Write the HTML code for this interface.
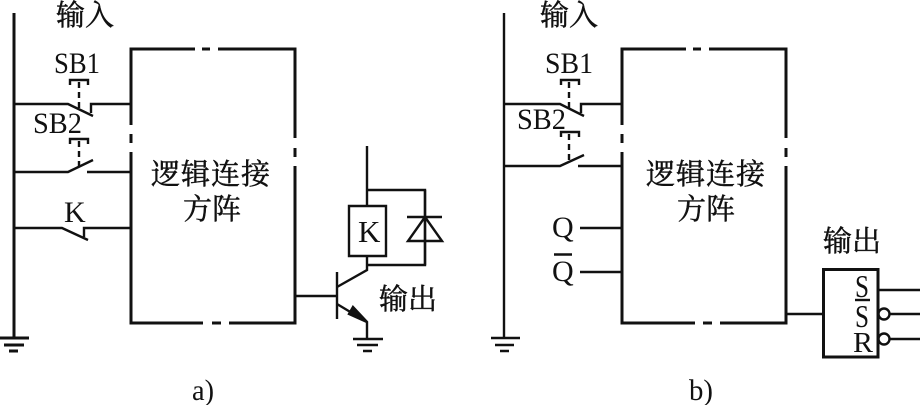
<!DOCTYPE html>
<html><head><meta charset="utf-8"><style>
html,body{margin:0;padding:0;background:#fff}
svg{display:block}
.l{fill:none;stroke:#111;stroke-width:2.4}
.t{stroke-width:3}
.cn{font-family:"Liberation Serif","Noto Serif CJK SC",serif;font-size:29px;fill:#111;stroke:#111;stroke-width:.45}
.w{letter-spacing:1px}
.en{font-family:"Liberation Serif",serif;font-size:30px;fill:#111}
</style></head><body>
<svg width="920" height="405" viewBox="0 0 920 405" xmlns="http://www.w3.org/2000/svg">
<g class="l">
<!-- a -->
<path class="t" d="M14 13V338M0 338H29M4 345H24M9 351H18"/>
<path class="t" d="M195 49H131V125M131 134V143M131 152V323H203M212 323H221M229 323H295V166M295 157V148M295 138V49H218M202 49H210"/>
<path d="M14 104H68L93 116M91 113V104H131M70 85V80H88V85"/>
<path d="M79 82V108" stroke-dasharray="6 4"/>
<path d="M14 172H68L93 160M87 172H131M70 144V139H88V144"/>
<path d="M79 141V166" stroke-dasharray="6 4"/>
<path d="M14 228H62L88 240M84 237V228H131"/>
<path d="M367 146V205M367 190H425V265H367M367 256V270L337 287M349 206H386V256H349Z"/>
<path d="M407 217H442M425 217L408 241H442ZM425 190V265"/>
<path d="M295 296H337M337 272V319M337 304L367 322V338M353 339H383M357 345H378M363 351H372"/>
<path d="M367 322L349 314L353 307Z" fill="#111"/>
<!-- b -->
<path d="M504 13V338M491 338H520M495 345H514M500 351H509"/>
<path class="t" d="M686 49H622V125M622 134V143M622 152V323H695M703 323H712M720 323H786V166M786 157V148M786 138V49H709M693 49H701"/>
<path d="M504 104H560L584 116M581 113V104H622M561 85V80H579V85"/>
<path d="M569 82V108" stroke-dasharray="6 4"/>
<path d="M504 166H560L584 155M578 166H622M561 137V132H579V137"/>
<path d="M569 134V160" stroke-dasharray="6 4"/>
<path d="M580 228H622M580 272H622M554 254.500H572"/>
<path d="M786 314H823M878 290H920M890 314H920M890 339H920"/>
<rect class="t" x="823.500" y="269.500" width="54.500" height="87.500"/>
<circle cx="884" cy="314" r="5.500"/><circle cx="884" cy="339" r="5.500"/>
<path d="M855 300H870"/>
</g>
<text class="cn" x="56" y="25">输入</text>
<text class="cn" x="540" y="25">输入</text>
<text class="en" x="54" y="73" textLength="46" lengthAdjust="spacingAndGlyphs">SB1</text>
<text class="en" x="33" y="133" textLength="49" lengthAdjust="spacingAndGlyphs">SB2</text>
<text class="en" x="64" y="222">K</text>
<text class="en" x="358" y="242" style="font-size:31px">K</text>
<text class="cn w" x="151" y="184">逻辑连接</text>
<text class="cn" x="183" y="219">方阵</text>
<text class="cn" x="379" y="309">输出</text>
<text class="en" x="192" y="400" textLength="22" lengthAdjust="spacingAndGlyphs">a)</text>
<text class="en" x="545" y="73" textLength="48" lengthAdjust="spacingAndGlyphs">SB1</text>
<text class="en" x="517" y="129" textLength="49" lengthAdjust="spacingAndGlyphs">SB2</text>
<text class="en" x="552" y="237">Q</text>
<text class="en" x="552" y="281">Q</text>
<text class="cn w" x="646" y="184">逻辑连接</text>
<text class="cn" x="677" y="219">方阵</text>
<text class="cn" x="823" y="251">输出</text>
<text class="en" x="855" y="297" style="font-size:32px" textLength="14" lengthAdjust="spacingAndGlyphs">S</text>
<text class="en" x="855" y="327" style="font-size:32px" textLength="14" lengthAdjust="spacingAndGlyphs">S</text>
<text class="en" x="853" y="352" style="font-size:29px" textLength="20" lengthAdjust="spacingAndGlyphs">R</text>
<text class="en" x="689" y="400" textLength="24" lengthAdjust="spacingAndGlyphs">b)</text>
</svg>
</body></html>
